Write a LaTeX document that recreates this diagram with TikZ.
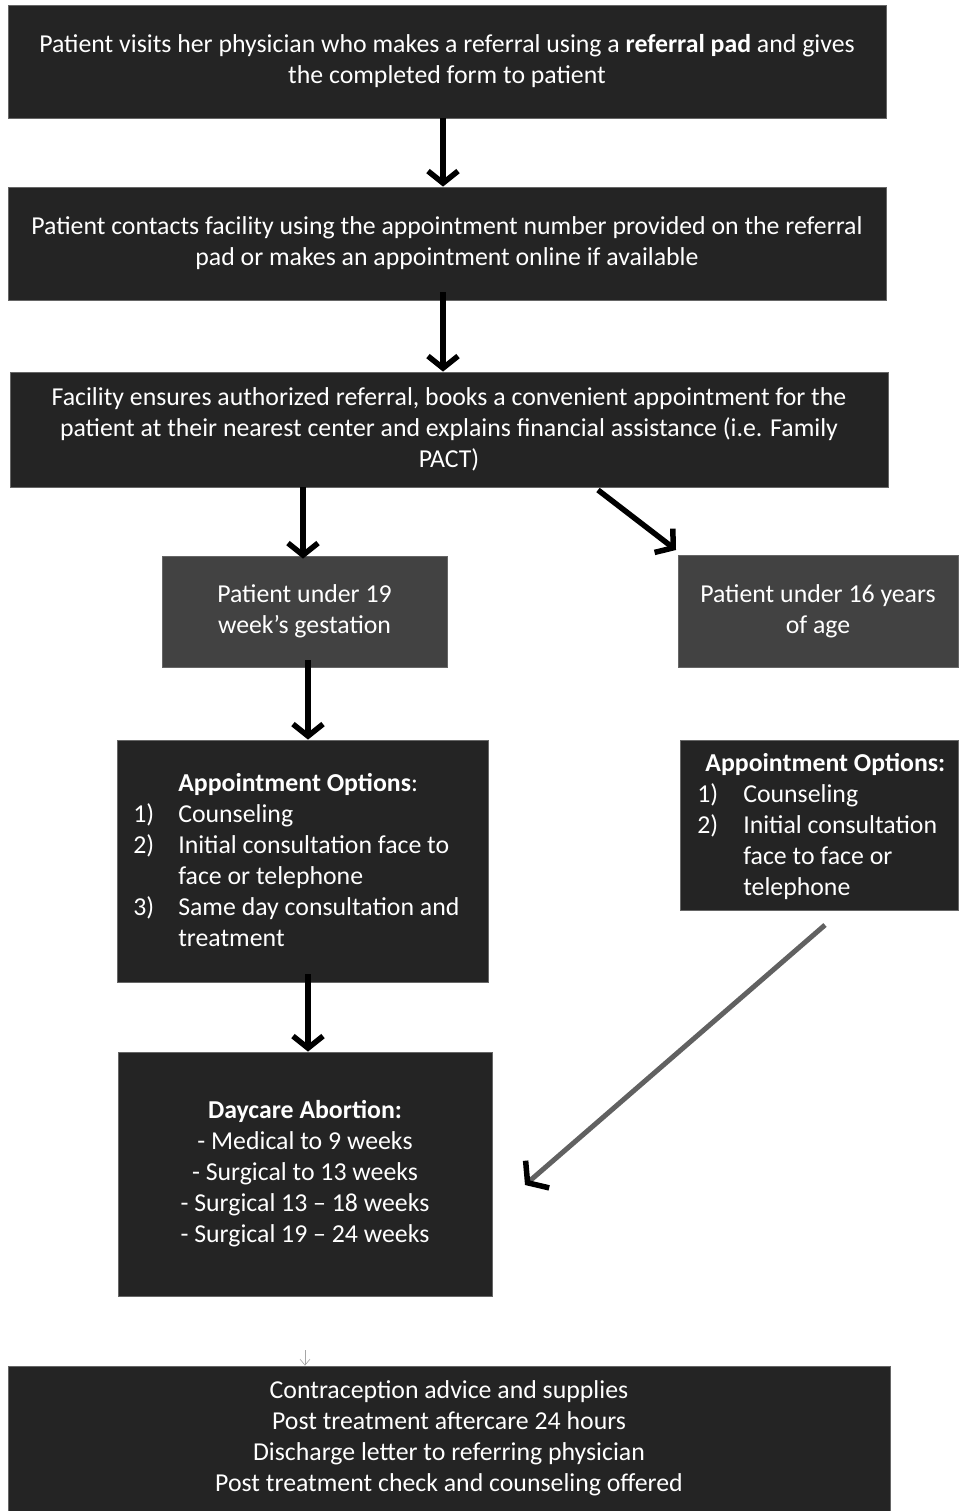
\documentclass[tikz,border=0pt]{standalone}
\usepackage{fontspec}
\setmainfont{Carlito}
\usetikzlibrary{arrows.meta}
\begin{document}
\begin{tikzpicture}[x=1pt,y=-1pt,
  box/.style={fill=black!86, draw=black!60, line width=0.8pt, text=white, inner sep=0pt,
    font=\fontsize{25.8}{31}\selectfont, align=center},
  lbox/.style={box, fill=black!74},
  flow/.style={line width=5.5pt, black, -{Straight Barb[length=12pt,width=30pt,line width=5.5pt]}},
  thinflow/.style={line width=5pt, black!62, -{Straight Barb[length=13pt,width=36pt,line width=5.5pt,color=black]}}
]
\useasboundingbox (0,0) rectangle (962,1511);

\node[box, minimum width=878pt, minimum height=113pt] (b1) at (447,61.5)
  {Patient visits her physician who makes a referral using a \textbf{referral pad} and gives\\the completed form to patient};
\node[box, minimum width=878pt, minimum height=113pt] (b2) at (447,243.5)
  {Patient contacts facility using the appointment number provided on the referral\\pad or makes an appointment online if available};
\node[box, minimum width=878pt, minimum height=115pt] (b3) at (449,429.5)
  {Facility ensures authorized referral, books a convenient appointment for the\\patient at their nearest center and explains financial assistance (i.e. Family\\PACT)};
\node[lbox, minimum width=285pt, minimum height=111pt] (b4) at (304.5,611.5)
  {Patient under 19\\week’s gestation};
\node[lbox, minimum width=280pt, minimum height=112pt] (b5) at (818,611)
  {Patient under 16 years\\of age};
\node[box, minimum width=371pt, minimum height=242pt] (b6) at (302.5,861) {};
\node[box, fill=none, draw=none, anchor=west] (t6) at (133,862.5)
  {\begin{tabular}{@{}l@{\hspace{24pt}}l@{}}
   & \textbf{Appointment Options}:\\
   1) & Counseling\\
   2) & Initial consultation face to\\
      & face or telephone\\
   3) & Same day consultation and\\
      & treatment
   \end{tabular}};
\node[box, minimum width=278pt, minimum height=170pt] (b7) at (819,825) {};
\node[box, fill=none, draw=none, anchor=west] (t7) at (697,827)
  {\begin{tabular}{@{}l@{\hspace{25pt}}l@{}}
   \multicolumn{2}{@{}l@{}}{\hspace{8pt}\textbf{Appointment Options:}}\\
   1) & Counseling\\
   2) & Initial consultation\\
      & face to face or\\
      & telephone
   \end{tabular}};
\node[box, minimum width=374pt, minimum height=244pt] (b8) at (305,1174)
  {\textbf{Daycare Abortion:}\\- Medical to 9 weeks\\- Surgical to 13 weeks\\- Surgical 13 – 18 weeks\\- Surgical 19 – 24 weeks};
\node[box, minimum width=882pt, minimum height=145pt] (b9) at (449,1438.5)
  {Contraception advice and supplies\\Post treatment aftercare 24 hours\\Discharge letter to referring physician\\Post treatment check and counseling offered};

\coordinate (a7s) at (825,925);
\coordinate (a7e) at (525,1185);
\coordinate (a3s) at (598,490);
\coordinate (a3e) at (676,550);
\coordinate (a9s) at (305,1350);

\draw[flow] (b1.south -| 443,0) -- (b2.north -| 443,0);
\draw[flow] ([yshift=8pt]b2.south -| 443,0) -- (b3.north -| 443,0);
\draw[flow] (b3.south -| 303,0) -- ([yshift=-3pt]b4.north -| 303,0);
\draw[flow] (a3s) -- (a3e);
\draw[flow] ([yshift=7pt]b4.south -| 308,0) -- (b6.north -| 308,0);
\draw[flow] ([yshift=8pt]b6.south -| 308,0) -- (b8.north -| 308,0);
\draw[thinflow] (a7s) -- (a7e);
\draw[black!35, line width=0.6pt, -{Straight Barb[length=6pt,width=10pt]}] (a9s) -- (b9.north -| a9s);
\end{tikzpicture}
\end{document}
